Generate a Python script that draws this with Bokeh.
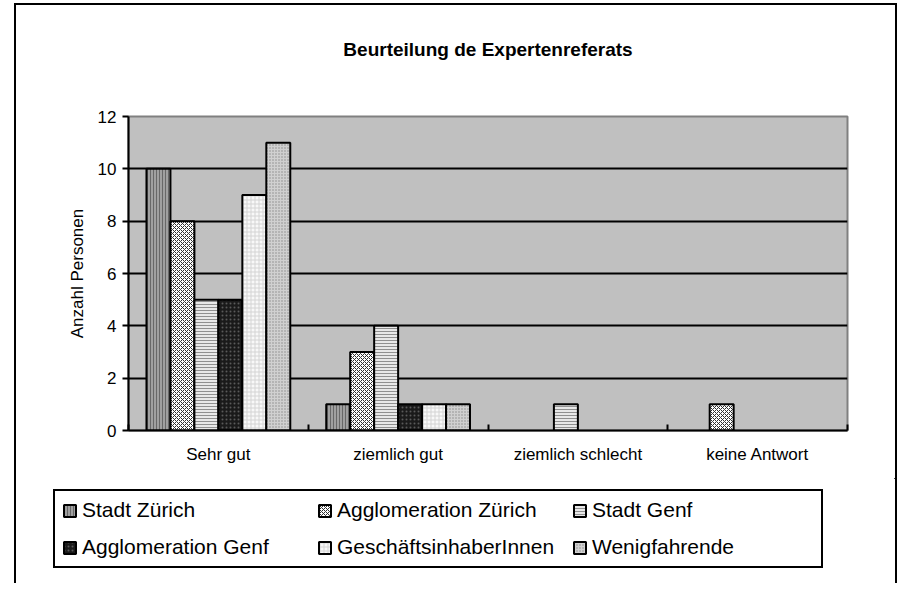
from bokeh.plotting import figure
from bokeh.layouts import column
from bokeh.models import Range1d, FixedTicker, Legend, LegendItem, ColumnDataSource, Title
from bokeh.embed import file_html
from bokeh.resources import INLINE

# ---- data ----
title_text = "Beurteilung de Expertenreferats"
y_label = "Anzahl Personen"
categories = ["Sehr gut", "ziemlich gut", "ziemlich schlecht", "keine Antwort"]
series_names = ["Stadt Zürich", "Agglomeration Zürich", "Stadt Genf",
                "Agglomeration Genf", "GeschäftsinhaberInnen", "Wenigfahrende"]
stadt_zuerich = [10, 1, 0, 0]
agglo_zuerich = [8, 3, 0, 1]
stadt_genf = [5, 4, 1, 0]
agglo_genf = [5, 1, 0, 0]
geschaeft = [9, 1, 0, 0]
wenigfahrende = [11, 1, 0, 0]
y_ticks = [0, 2, 4, 6, 8, 10, 12]

series_values = [stadt_zuerich, agglo_zuerich, stadt_genf, agglo_genf, geschaeft, wenigfahrende]

# ---- styles ----
styles = [
    dict(fill_color="#a0a0a0", hatch_pattern="vertical_line", hatch_color="#686868", hatch_scale=3, hatch_weight=1),
    dict(fill_color="#ffffff", hatch_pattern="diagonal_cross", hatch_color="#303030", hatch_scale=4, hatch_weight=1),
    dict(fill_color="#e8e8e8", hatch_pattern="horizontal_line", hatch_color="#909090", hatch_scale=3, hatch_weight=1),
    dict(fill_color="#1a1a1a", hatch_pattern="dot", hatch_color="#5a5a5a", hatch_scale=4, hatch_weight=1),
    dict(fill_color="#f8f8f8", hatch_pattern="cross", hatch_color="#d4d4d4", hatch_scale=4, hatch_weight=1),
    dict(fill_color="#d0d0d0", hatch_pattern="dot", hatch_color="#8a8a8a", hatch_scale=3, hatch_weight=1),
]

FONT = "Liberation Sans"
n_series = len(series_names)
bar_w = 1.0 / (n_series + 1.5)

p = figure(width=879, height=473, frame_width=719, frame_height=314,
           output_backend="svg", toolbar_location=None,
           x_range=Range1d(0, len(categories)), y_range=Range1d(0, 12),
           min_border_left=112, min_border_right=48, min_border_top=111, min_border_bottom=48)

p.background_fill_color = "#c0c0c0"
p.border_fill_color = "white"
p.outline_line_color = "#808080"
p.outline_line_width = 2

p.title.text = title_text
p.title.align = "center"
p.title.offset = -33
p.title.standoff = 0
p.title.text_color = "black"
p.title.text_font = FONT
p.title.text_font_size = "19px"
p.title.text_font_style = "bold"

# spacer between title and plot area
p.add_layout(Title(text=" ", standoff=34, text_font_size="19px", text_font=FONT), "above")

for k, (name, vals, st) in enumerate(zip(series_names, series_values, styles)):
    xs = [i + 0.5 + (k - (n_series - 1) / 2) * bar_w for i in range(len(categories))]
    keep = [j for j, v in enumerate(vals) if v > 0]
    src = ColumnDataSource(dict(x=[xs[j] for j in keep], top=[vals[j] for j in keep]))
    p.vbar(x="x", top="top", width=bar_w, source=src, line_color="black", line_width=2, **st)

# axes
centers = [i + 0.5 for i in range(len(categories))]
bounds = list(range(len(categories) + 1))
p.xaxis.ticker = FixedTicker(ticks=centers, minor_ticks=bounds)
p.xaxis.major_label_overrides = {c: lab for c, lab in zip(centers, categories)}
p.xaxis.major_tick_in = 0
p.xaxis.major_tick_out = 0
p.xaxis.minor_tick_in = 6
p.xaxis.minor_tick_out = 0
p.xaxis.minor_tick_line_color = "black"
p.xaxis.minor_tick_line_width = 2
p.xaxis.axis_line_color = "black"
p.xaxis.axis_line_width = 2
p.xaxis.major_label_text_font = FONT
p.xaxis.major_label_text_font_size = "17px"
p.xaxis.major_label_text_color = "black"
p.xaxis.major_label_standoff = 14

p.yaxis.ticker = FixedTicker(ticks=y_ticks)
p.yaxis.axis_line_color = "black"
p.yaxis.axis_line_width = 2
p.yaxis.major_tick_in = 0
p.yaxis.major_tick_out = 6
p.yaxis.major_tick_line_width = 2
p.yaxis.major_tick_line_color = "black"
p.yaxis.minor_tick_line_color = None
p.yaxis.major_label_text_font = FONT
p.yaxis.major_label_text_font_size = "17px"
p.yaxis.major_label_text_color = "black"
p.yaxis.major_label_standoff = 6
p.yaxis.axis_label = y_label
p.yaxis.axis_label_text_font = FONT
p.yaxis.axis_label_text_font_size = "17px"
p.yaxis.axis_label_text_font_style = "normal"
p.yaxis.axis_label_text_color = "black"
p.yaxis.axis_label_standoff = 8

p.xgrid.grid_line_color = None
p.ygrid.ticker = FixedTicker(ticks=y_ticks[:-1])
p.ygrid.grid_line_color = "black"
p.ygrid.grid_line_width = 2

# ---- legend panel (separate figure below the chart) ----
leg = figure(width=879, height=105, output_backend="svg", toolbar_location=None,
             x_range=Range1d(0, 1), y_range=Range1d(0, 1),
             min_border_left=0, min_border_right=0, min_border_top=0, min_border_bottom=0,
             x_axis_location=None, y_axis_location=None)
leg.grid.visible = False
leg.outline_line_color = None
leg.background_fill_color = "white"
leg.border_fill_color = "white"

# swatch renderers for the legend only (placed outside the visible range)
leg_renderers = []
for name, st in zip(series_names, styles):
    r = leg.vbar(x=[5], top=[5], bottom=[4], width=0.1, line_color="black", line_width=2, **st)
    leg_renderers.append(r)

legend = Legend(items=[LegendItem(label=n, renderers=[r]) for n, r in zip(series_names, leg_renderers)],
                location=(37, 15), orientation="horizontal", ncols=3,
                glyph_width=15, glyph_height=15, label_standoff=5,
                label_width=222, label_height=23, spacing=13, padding=7, margin=0,
                label_text_font=FONT, label_text_font_size="21px", label_text_color="black",
                border_line_color="black", border_line_width=2, border_line_alpha=1.0,
                background_fill_color="white", background_fill_alpha=1.0)
leg.add_layout(legend, "center")

frame_styles_top = {"margin-left": "14px", "margin-top": "3px",
                    "border-left": "2px solid black", "border-top": "2px solid black",
                    "border-right": "2px solid black"}

if "frame_align" in p.properties():
    p.frame_align = False
    leg.frame_align = False
    root = column(p, leg, spacing=0)
    root.styles = frame_styles_top
    html = file_html(root, INLINE)
else:
    p.styles = frame_styles_top
    leg.styles = {"margin-left": "14px", "border-left": "2px solid black",
                  "border-right": "2px solid black", "display": "block"}
    html = file_html([p, leg], INLINE)

open("out.html", "w").write(html)
